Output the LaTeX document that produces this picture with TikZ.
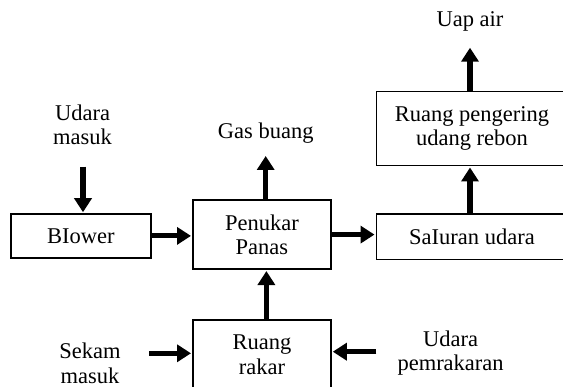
\documentclass[tikz,border=0pt]{standalone}
\usepackage{fontspec}
\setmainfont{Liberation Serif}
\usetikzlibrary{arrows.meta}

\begin{document}
\begin{tikzpicture}[x=1pt, y=-1pt,
    every node/.style={font=\fontsize{22.5}{24.5}\selectfont, align=center, inner sep=0pt},
    box/.style={draw, line width=1.6pt},
    flow/.style={line width=5.2pt, -{Triangle[width=17pt, length=14pt]}, shorten >=1pt}]
  \clip (0,0) rectangle (563,387);

  % boxes
  \node[box, minimum width=140pt, minimum height=43.7pt] (blower) at (80.8,235.9) {BIower};
  \node[box, minimum width=138.2pt, minimum height=69.3pt] (penukar) at (261.9,234.6) {Penukar\\Panas};
  \node[box, minimum width=191.4pt, minimum height=45.3pt] (saluran) at (472,236.7) {SaIuran udara};
  \node[box, minimum width=191.4pt, minimum height=74pt] (pengering) at (472,128.7) {Ruang pengering\\udang rebon};
  \node[box, minimum width=138.2pt, minimum height=69.3pt] (rakar) at (261.9,354.6) {Ruang\\rakar};

  % labels
  \node (udaraIn) at (82.6,125) {Udara\\masuk};
  \node (gas) at (265.7,133) {Gas buang};
  \node (uap) at (470,21.7) {Uap air};
  \node (sekam) at (90,363.5) {Sekam\\masuk};
  \node (pemrakaran) at (450.6,353.3) {Udara\\pemrakaran};

  % free ends
  \coordinate (ua) at (83,166.7);
  \coordinate (gasEnd) at (265.7,155);
  \coordinate (uapEnd) at (470,46.7);
  \coordinate (sk) at (149,353.3);
  \coordinate (up) at (376.3,351.7);

  % flows
  \draw[flow] (ua) -- (ua |- blower.north);
  \draw[flow] (blower.east) -- (blower.east -| penukar.west);
  \draw[flow] (penukar.east) -- (penukar.east -| saluran.west);
  \draw[flow] (gasEnd |- penukar.north) -- (gasEnd);
  \draw[flow] ([xshift=4.5pt]rakar.north) -- ([xshift=4.5pt]penukar.south);
  \draw[flow] ([xshift=-2pt]saluran.north) -- ([xshift=-2pt]pengering.south);
  \draw[flow] ([xshift=-2pt]pengering.north) -- (uapEnd);
  \draw[flow] (sk) -- (sk -| rakar.west);
  \draw[flow] (up) -- (up -| rakar.east);
\end{tikzpicture}
\end{document}
